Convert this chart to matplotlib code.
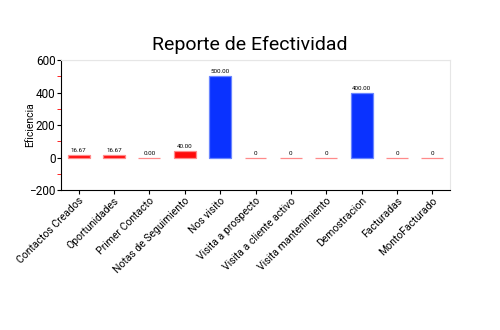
import matplotlib.pyplot as plt
import numpy as np

categorias = ['Contactos Creados', 'Oportunidades', 'Primer Contacto', 'Notas de Seguimiento',
              'Nos visito', 'Visita a prospecto', 'Visita a cliente activo',
              'Visita mantenimiento', 'Demostracion', 'Facturadas', 'MontoFacturado']
eficiencia = [16.67, 16.67, 0.00, 40.00, 500.00, 0, 0, 0, 400.00, 0, 0]
etiquetas = ['16.67', '16.67', '0.00', '40.00', '500.00', '0', '0', '0', '400.00', '0', '0']

plt.rcParams['font.family'] = ['Roboto', 'DejaVu Sans']

fig = plt.figure(figsize=(5, 3.3), dpi=100)
ax = fig.add_axes([0.122, 0.424, 0.778, 0.394])

x = np.arange(len(categorias))
colores = ['#0a32ff' if v > 100 else '#ff0a0a' for v in eficiencia]
bordes = ['#6a86ff' if v > 100 else '#ff8a8a' for v in eficiencia]
ax.bar(x, eficiencia, width=0.62, color=colores, edgecolor=bordes, linewidth=0.9)

for xi, v, t in zip(x, eficiencia, etiquetas):
    ax.text(xi, v + 12, t, ha='center', va='bottom', fontsize=4.5)

ax.set_xlim(-0.5, 10.5)
ax.set_ylim(-200, 600)
ax.set_yticks([-200, 0, 200, 400, 600])
ax.set_yticks([-100, 100, 300, 500], minor=True)
ax.tick_params(axis='y', which='minor', colors='red', length=3)
ax.tick_params(axis='y', which='major', labelsize=8.5, length=3, pad=1)
ax.tick_params(axis='x', length=3, labelsize=7.5, pad=1)
ax.set_xticks(x)
ax.set_xticklabels(categorias, rotation=45, ha='right', rotation_mode='anchor')
ax.set_ylabel('Eficiencia', fontsize=7.5, labelpad=-4)
ax.axhline(600, color='#e6e6e6', linewidth=0.8)

ax.spines['top'].set_color('#e6e6e6')
ax.spines['right'].set_color('#e6e6e6')

fig.suptitle('Reporte de Efectividad', fontsize=14, y=0.89)

fig.savefig('out.png', dpi=100)
